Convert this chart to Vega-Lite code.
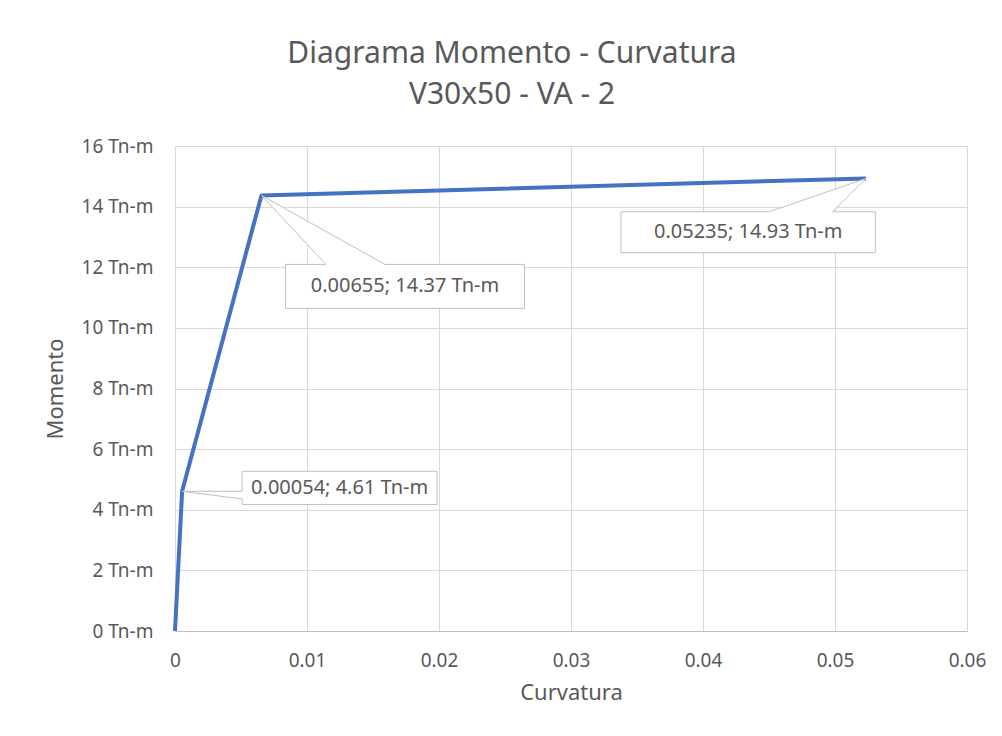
{
  "$schema": "https://vega.github.io/schema/vega-lite/v6.json",
  "width": 792,
  "height": 485,
  "autosize": "none",
  "padding": {"left": 175, "top": 146, "right": 35, "bottom": 105},
  "background": "white",
  "data": {"values": [
    {"c": 0, "m": 0, "label": ""},
    {"c": 0.00054, "m": 4.61, "label": "0.00054; 4.61 Tn-m"},
    {"c": 0.00655, "m": 14.37, "label": "0.00655; 14.37 Tn-m"},
    {"c": 0.05235, "m": 14.93, "label": "0.05235; 14.93 Tn-m"}
  ]},
  "title": {
    "text": ["Diagrama Momento - Curvatura", "V30x50 - VA - 2"],
    "font": "Noto Sans",
    "fontSize": 30,
    "fontWeight": "normal",
    "color": "#595959",
    "anchor": "middle",
    "frame": "group",
    "dx": -59,
    "baseline": "alphabetic",
    "lineHeight": 41,
    "offset": 3
  },
  "config": {
    "view": {"stroke": null},
    "font": "Noto Sans",
    "axis": {
      "labelFont": "Noto Sans",
      "titleFont": "Noto Sans",
      "labelColor": "#595959",
      "titleColor": "#595959",
      "labelFontSize": 19,
      "titleFontSize": 22,
      "titleFontWeight": "normal",
      "gridColor": "#D9D9D9",
      "gridWidth": 1,
      "ticks": false
    }
  },
  "encoding": {
    "x": {
      "field": "c", "type": "quantitative",
      "scale": {"domain": [0, 0.06], "nice": false, "zero": false},
      "axis": {
        "title": "Curvatura",
        "values": [0, 0.01, 0.02, 0.03, 0.04, 0.05, 0.06],
        "labelExpr": "format(datum.value, '~g')",
        "domainColor": "#BFBFBF",
        "domainWidth": 1,
        "labelPadding": 20,
        "titlePadding": 12,
        "labelFlush": false
      }
    },
    "y": {
      "field": "m", "type": "quantitative",
      "scale": {"domain": [0, 16], "nice": false},
      "axis": {
        "title": "Momento",
        "values": [0, 2, 4, 6, 8, 10, 12, 14, 16],
        "labelExpr": "datum.value + ' Tn-m'",
        "domain": false,
        "labelPadding": 22,
        "titlePadding": 14
      }
    }
  },
  "layer": [
    {
      "mark": {"type": "line", "color": "#4472C4", "strokeWidth": 4, "strokeJoin": "round"}
    },
    {
      "transform": [{"filter": {"field": "c", "equal": 0.00054}}],
      "mark": {"type": "point", "shape": "M60,0 L60,-20 L255,-20 L255,13.3 L60,13.3 L60,7.7 L0,0 Z", "size": 4, "filled": true, "fill": "white", "stroke": "#BFBFBF", "strokeWidth": 1, "opacity": 1}
    },
    {
      "transform": [{"filter": {"field": "c", "equal": 0.00655}}],
      "mark": {"type": "point", "shape": "M64.5,69 L24,69 L24,113 L263,113 L263,69 L123.5,69 L0,0 Z", "size": 4, "filled": true, "fill": "white", "stroke": "#BFBFBF", "strokeWidth": 1, "opacity": 1}
    },
    {
      "transform": [{"filter": {"field": "c", "equal": 0.05235}}],
      "mark": {"type": "point", "shape": "M-33.3,33.3 L9.3,33.3 L9.3,74.3 L-245,74.3 L-245,33.3 L-96.7,33.3 L0,0 Z", "size": 4, "filled": true, "fill": "white", "stroke": "#BFBFBF", "strokeWidth": 1, "opacity": 1}
    },
    {
      "transform": [{"filter": {"field": "c", "equal": 0.00054}}],
      "mark": {"type": "text", "dx": 157.5, "dy": -3.3, "align": "center", "baseline": "middle", "fontSize": 20, "color": "#595959"},
      "encoding": {"text": {"field": "label"}}
    },
    {
      "transform": [{"filter": {"field": "c", "equal": 0.00655}}],
      "mark": {"type": "text", "dx": 143.5, "dy": 91, "align": "center", "baseline": "middle", "fontSize": 20, "color": "#595959"},
      "encoding": {"text": {"field": "label"}}
    },
    {
      "transform": [{"filter": {"field": "c", "equal": 0.05235}}],
      "mark": {"type": "text", "dx": -117.8, "dy": 53.8, "align": "center", "baseline": "middle", "fontSize": 20, "color": "#595959"},
      "encoding": {"text": {"field": "label"}}
    }
  ]
}
